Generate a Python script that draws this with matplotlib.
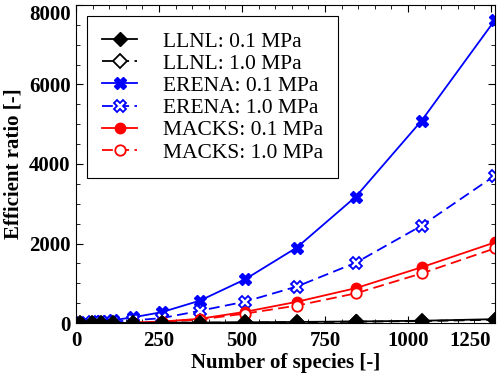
import matplotlib.pyplot as plt
from matplotlib.ticker import MultipleLocator

plt.rcParams['font.family'] = ['Liberation Serif', 'DejaVu Serif']

# number of species in each reduced mechanism
species = [12, 47, 74, 112, 171, 258, 373, 509, 665, 843, 1041, 1262]
species_macks = species[4:]

llnl_01 = [2, 3, 4, 5, 7, 10, 14, 20, 30, 42, 60, 100]
llnl_10 = [2, 3, 3, 4, 6, 8, 12, 17, 25, 36, 52, 85]
erena_01 = [15, 35, 50, 75, 145, 275, 565, 1100, 1900, 3180, 5090, 7620]
erena_10 = [8, 18, 25, 40, 70, 125, 310, 540, 920, 1520, 2450, 3710]
macks_01 = [15, 40, 110, 284, 536, 880, 1405, 2030]
macks_10 = [10, 30, 90, 240, 440, 750, 1250, 1880]

fig = plt.figure(figsize=(5, 3.74), dpi=100)
ax = fig.add_axes([0.152, 0.136, 0.838, 0.851])

lw = 1.3
dash = (0, (6, 3))
ax.plot(species, llnl_01, color='k', lw=lw, marker='D', ms=7.5, zorder=6,
        label='LLNL: 0.1 MPa')
ax.plot(species, llnl_10, color='k', lw=lw, ls=dash, marker='D', ms=7.5, mfc='white',
        mew=1.3, zorder=5, label='LLNL: 1.0 MPa')
ax.plot(species, erena_01, color='blue', lw=lw, marker='X', ms=8,
        label='ERENA: 0.1 MPa')
ax.plot(species, erena_10, color='blue', lw=lw, ls=dash, marker='X', ms=8, mfc='white',
        mew=1.3, label='ERENA: 1.0 MPa')
ax.plot(species_macks, macks_01, color='red', lw=lw, marker='o', ms=7.5,
        label='MACKS: 0.1 MPa')
ax.plot(species_macks, macks_10, color='red', lw=lw, ls=dash, marker='o', ms=7.5, mfc='white',
        mew=1.3, label='MACKS: 1.0 MPa')

ax.set_xlim(0, 1262)
ax.set_ylim(0, 8000)
ax.xaxis.set_major_locator(MultipleLocator(250))
ax.xaxis.set_minor_locator(MultipleLocator(50))
ax.yaxis.set_major_locator(MultipleLocator(2000))
ax.yaxis.set_minor_locator(MultipleLocator(500))
ax.tick_params(which='both', direction='in', top=True, right=True)
ax.tick_params(which='major', length=5, labelsize=15)
ax.tick_params(which='minor', length=3)
ax.tick_params(axis='x', pad=6)
ax.tick_params(axis='y', pad=4)

ax.set_xlabel('Number of species [-]', fontsize=15, fontweight='bold', labelpad=1)
ax.set_ylabel('Efficient ratio [-]', fontsize=15, fontweight='bold', labelpad=4)

leg = ax.legend(loc='upper left', bbox_to_anchor=(0.026, 0.965), borderaxespad=0,
                fontsize=15.5, fancybox=False, framealpha=1, edgecolor='k',
                handlelength=1.6, handletextpad=1.2, labelspacing=0.1,
                borderpad=0.72)
leg.get_frame().set_linewidth(0.8)

# tick labels: bold, keep the outer ones inside the picture
fig.canvas.draw()
for lbl in ax.get_xticklabels() + ax.get_yticklabels():
    lbl.set_fontweight('bold')
    if lbl.get_text() == '1250':
        lbl.set_horizontalalignment('right')
    if lbl.get_text() == '8000':
        lbl.set_verticalalignment('top')

fig.savefig('out.png', dpi=100)
